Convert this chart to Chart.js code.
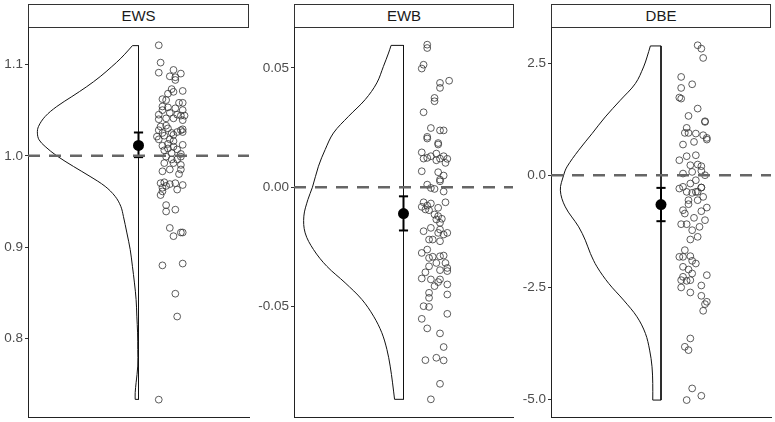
<!DOCTYPE html>
<html lang="en">
<head>
    <meta charset="UTF-8">
    <title>EWS / EWB / DBE</title>
    <script src="https://cdn.jsdelivr.net/npm/chart.js"></script>
    <style>
        body { margin: 0; background: #fff; font-family: "Liberation Sans", Arial, sans-serif; }
        #wrap { position: relative; width: 775px; height: 422px; }
        .strip {
            position: absolute; top: 4px; height: 22px;
            border: 1px solid #333; background: #fff; box-sizing: content-box;
            text-align: center; line-height: 22px; font-size: 15px; color: #1a1a1a;
        }
        .panel { position: absolute; top: 27px; }
    </style>
</head>
<body>
<div id="wrap">
    <div class="strip" style="left:28px; width:219px;">EWS</div>
    <div class="strip" style="left:294px; width:218px;">EWB</div>
    <div class="strip" style="left:551px; width:218px;">DBE</div>
    <div class="panel" style="left:0px;"><canvas id="ews" width="250" height="395"></canvas></div>
    <div class="panel" style="left:252px;"><canvas id="ewb" width="262" height="395"></canvas></div>
    <div class="panel" style="left:515px;"><canvas id="dbe" width="257" height="395"></canvas></div>
</div>

<script>
    // ---- EWS ----
    const ewsX = [1.11,1.12,1.11,1.19,1.23,1.17,1.20,1.20,1.24,1.18,1.19,1.16,1.13,1.15,1.22,1.24,1.13,1.16,1.20,1.13,
        1.24,1.11,1.17,1.21,1.23,1.25,1.11,1.15,1.19,1.24,1.12,1.15,1.11,1.16,1.23,1.24,1.13,1.18,1.21,1.10,
        1.14,1.19,1.24,1.11,1.17,1.19,1.24,1.16,1.19,1.13,1.14,1.16,1.21,1.18,1.23,1.15,1.18,1.21,1.23,1.14,
        1.19,1.23,1.17,1.23,1.13,1.22,1.12,1.14,1.17,1.20,1.24,1.13,1.13,1.15,1.21,1.12,1.15,1.15,1.20,1.17,
        1.19,1.23,1.24,1.13,1.24,1.20,1.21,1.11];
    const ewsY = [1.121,1.102,1.091,1.094,1.090,1.087,1.086,1.083,1.071,1.073,1.070,1.068,1.062,1.061,1.058,1.058,1.054,1.053,1.052,1.050,
        1.050,1.045,1.047,1.045,1.044,1.044,1.040,1.041,1.041,1.039,1.032,1.033,1.028,1.030,1.028,1.029,1.025,1.025,1.026,1.021,
        1.022,1.023,1.026,1.018,1.018,1.016,1.012,1.013,1.010,1.011,1.006,1.008,1.007,1.003,1.002,0.999,0.996,0.996,0.999,0.992,
        0.992,0.990,0.985,0.985,0.983,0.980,0.970,0.971,0.969,0.970,0.968,0.965,0.961,0.967,0.963,0.957,0.946,0.939,0.941,0.921,
        0.912,0.916,0.916,0.880,0.882,0.849,0.824,0.733];
    const ewsViolinY = [1.1206,1.1158,1.1067,1.0976,1.0867,1.0757,1.0648,1.0539,1.0430,1.0321,1.0248,1.0175,1.0102,1.0000,
        0.9883,0.9774,0.9665,0.9556,0.9446,0.9337,0.9155,0.8973,0.8790,0.8608,0.8426,0.8244,0.8061,0.7880,0.7698,0.7515,0.7406,0.7333];
    const ewsViolinW = [0.033,0.054,0.096,0.145,0.208,0.281,0.362,0.444,0.507,0.543,0.549,0.540,0.507,0.444,
        0.353,0.263,0.181,0.127,0.096,0.082,0.063,0.045,0.033,0.022,0.013,0.009,0.005,0.004,0.004,0.013,0.018,0.018];
    const ewsStats = [1.0113, 0.9985, 1.0255];   // mean, lower, upper
    const ewsRef = 1.0;
    const ewsTicks = [0.8, 0.9, 1.0, 1.1];
    const ewsRange = [0.714, 1.141];

    // ---- EWB ----
    const ewbX = [1.13,1.13,1.11,1.10,1.25,1.20,1.20,1.17,1.17,1.11,1.15,1.20,1.22,1.13,1.13,1.19,1.19,1.10,1.13,1.15,
        1.18,1.22,1.24,1.11,1.18,1.20,1.23,1.19,1.10,1.22,1.20,1.20,1.13,1.15,1.17,1.22,1.11,1.13,1.15,1.19,
        1.23,1.10,1.14,1.17,1.19,1.21,1.12,1.18,1.20,1.15,1.20,1.24,1.11,1.16,1.19,1.22,1.14,1.20,1.10,1.13,
        1.14,1.16,1.20,1.22,1.23,1.24,1.24,1.18,1.14,1.12,1.20,1.10,1.15,1.20,1.24,1.19,1.17,1.14,1.24,1.11,
        1.14,1.14,1.24,1.10,1.13,1.20,1.22,1.18,1.12,1.22,1.20,1.15];
    const ewbY = [0.0597,0.0583,0.0513,0.0497,0.0446,0.0437,0.0416,0.0374,0.0360,0.0314,0.0248,0.0238,0.0238,0.0211,0.0204,0.0185,0.0179,0.0146,0.0123,0.0130,
        0.0141,0.0130,0.0119,0.0120,0.0113,0.0120,0.0102,0.0063,0.0067,0.0049,0.0032,0.0025,0.0011,-0.0003,-0.0007,-0.0018,-0.0063,-0.0077,-0.0068,-0.0086,
        -0.0063,-0.0082,-0.0096,-0.0114,-0.0121,-0.0132,-0.0093,-0.0135,-0.0149,-0.0170,-0.0177,-0.0191,-0.0184,-0.0219,-0.0191,-0.0198,-0.0219,-0.0226,-0.0275,-0.0261,
        -0.0296,-0.0291,-0.0289,-0.0286,-0.0317,-0.0338,-0.0351,-0.0317,-0.0331,-0.0356,-0.0347,-0.0382,-0.0386,-0.0386,-0.0407,-0.0397,-0.0414,-0.0442,-0.0449,-0.0498,
        -0.0463,-0.0501,-0.0530,-0.0551,-0.0591,-0.0612,-0.0669,-0.0714,-0.0724,-0.0725,-0.0823,-0.0888];
    const ewbViolinY = [0.0594,0.0562,0.0506,0.0437,0.0367,0.0297,0.0227,0.0158,0.0088,0.0,-0.0052,-0.0121,
        -0.0191,-0.0261,-0.0331,-0.0400,-0.0470,-0.0540,-0.0609,-0.0679,-0.0749,-0.0819,-0.0888];
    const ewbViolinW = [0.068,0.082,0.110,0.146,0.210,0.301,0.384,0.429,0.466,0.499,0.524,0.546,
        0.539,0.493,0.420,0.320,0.228,0.164,0.119,0.091,0.073,0.060,0.049];
    const ewbStats = [-0.0110, -0.0181, -0.0038];
    const ewbRef = 0.0;
    const ewbTicks = [-0.05, 0.0, 0.05];
    const ewbRange = [-0.0962, 0.0671];

    // ---- DBE ----
    const dbeX = [1.20,1.22,1.23,1.11,1.17,1.11,1.10,1.11,1.20,1.15,1.14,1.24,1.24,1.13,1.15,1.19,1.23,1.25,1.25,1.12,
        1.18,1.19,1.10,1.14,1.16,1.20,1.22,1.12,1.17,1.22,1.24,1.16,1.19,1.22,1.12,1.10,1.14,1.20,1.17,1.19,
        1.23,1.15,1.20,1.12,1.15,1.22,1.13,1.25,1.18,1.24,1.11,1.14,1.17,1.21,1.20,1.13,1.12,1.16,1.10,1.17,
        1.19,1.12,1.15,1.12,1.17,1.16,1.11,1.14,1.25,1.22,1.11,1.16,1.22,1.25,1.24,1.23,1.16,1.13,1.15,1.17,
        1.22,1.14,1.22,1.16];
    const dbeY = [2.902,2.827,2.619,2.195,2.031,1.949,1.734,1.711,1.488,1.324,1.057,1.205,1.190,0.945,0.945,0.930,0.893,0.833,0.796,0.685,
        0.744,0.446,0.335,0.424,0.223,0.238,0.201,0.037,0.074,0.097,0.000,-0.186,-0.112,-0.275,-0.260,-0.298,-0.372,-0.372,-0.394,-0.372,
        -0.484,-0.558,-0.558,-0.781,-0.647,-0.804,-0.856,-0.722,-0.952,-1.004,-1.094,-1.094,-1.228,-1.153,-1.376,-1.674,-1.823,-1.808,-1.823,-1.912,
        -1.972,-2.046,-2.106,-2.269,-2.195,-2.344,-2.344,-2.359,-2.232,-2.463,-2.507,-2.619,-2.693,-2.827,-2.879,-3.028,-3.646,-3.832,-3.906,-4.762,
        -4.926,-5.022,-0.275,-1.436];
    const dbeViolinY = [2.887,2.641,2.418,2.046,1.674,1.302,0.930,0.558,0.186,0.0,-0.335,-0.707,
        -1.153,-1.451,-1.749,-2.046,-2.418,-2.790,-3.162,-3.534,-3.906,-4.278,-4.650,-5.022];
    const dbeViolinW = [0.058,0.076,0.095,0.140,0.222,0.304,0.376,0.449,0.513,0.531,0.549,0.522,
        0.449,0.413,0.385,0.349,0.285,0.204,0.131,0.085,0.062,0.049,0.045,0.045];
    const dbeStats = [-0.655, -1.027, -0.283];
    const dbeRef = 0.0;
    const dbeTicks = [-5.0, -2.5, 0.0, 2.5];
    const dbeRange = [-5.40, 3.31];

    const FONT = "'Liberation Sans', Arial, sans-serif";

    function line(data, opts) {
        return Object.assign({ data: data, showLine: true, pointRadius: 0, borderColor: '#111',
            borderWidth: 1, fill: false, tension: 0 }, opts);
    }

    function makePanel(id, xs, ys, vY, vW, stats, ref, ticks, range, axisW, digits) {
        const n = vY.length;
        // curve of the half violin, closed by the vertical line at x = 1
        const curve = vY.map((y, i) => ({ x: 1 - vW[i], y: y }));
        const frame = [
            { x: 1 - vW[0], y: vY[0] }, { x: 1, y: vY[0] },
            { x: 1, y: vY[n - 1] }, { x: 1 - vW[n - 1], y: vY[n - 1] }
        ];
        const pts = xs.map((x, i) => ({ x: x, y: ys[i] }));
        const cap = 0.025;

        new Chart(document.getElementById(id), {
            type: 'scatter',
            data: {
                datasets: [
                    line([{ x: 0.4, y: ref }, { x: 1.6, y: ref }],
                        { borderColor: '#666', borderWidth: 2.5, borderDash: [12, 9] }),
                    { data: [{ x: 1, y: stats[0] }], pointRadius: 5.5, backgroundColor: '#000',
                        borderColor: '#000', borderWidth: 0 },
                    line([{ x: 1, y: stats[1] }, { x: 1, y: stats[2] }], { borderColor: '#000', borderWidth: 2 }),
                    line([{ x: 1 - cap, y: stats[1] }, { x: 1 + cap, y: stats[1] }], { borderColor: '#000', borderWidth: 2 }),
                    line([{ x: 1 - cap, y: stats[2] }, { x: 1 + cap, y: stats[2] }], { borderColor: '#000', borderWidth: 2 }),
                    { data: pts, pointRadius: 3.4, pointStyle: 'circle', backgroundColor: 'rgba(0,0,0,0)',
                        borderColor: '#333', borderWidth: 0.8 },
                    line(curve, { tension: 0.35 }),
                    line(frame)
                ]
            },
            options: {
                responsive: false,
                animation: false,
                events: [],
                layout: { autoPadding: false, padding: { top: 0, right: 1, bottom: 0, left: 0 } },
                plugins: { legend: { display: false }, tooltip: { enabled: false } },
                scales: {
                    x: {
                        type: 'linear', min: 0.4, max: 1.6,
                        ticks: { display: false },
                        grid: { display: false },
                        border: { display: true, color: '#222', width: 1 },
                        afterFit: s => { s.height = 5; s.paddingLeft = 0; s.paddingRight = 0; }
                    },
                    y: {
                        type: 'linear', min: range[0], max: range[1],
                        afterBuildTicks: s => { s.ticks = ticks.map(v => ({ value: v })); },
                        ticks: {
                            color: '#4d4d4d', padding: 2,
                            font: { family: FONT, size: 13.5 },
                            callback: v => v.toFixed(digits)
                        },
                        grid: { display: true, drawOnChartArea: false, drawTicks: true, tickLength: 3, color: '#333' },
                        border: { display: true, color: '#222', width: 1 },
                        afterFit: s => { s.width = axisW; s.paddingTop = 0; s.paddingBottom = 0; }
                    }
                }
            }
        });
    }

    makePanel('ews', ewsX, ewsY, ewsViolinY, ewsViolinW, ewsStats, ewsRef, ewsTicks, ewsRange, 28, 1);
    makePanel('ewb', ewbX, ewbY, ewbViolinY, ewbViolinW, ewbStats, ewbRef, ewbTicks, ewbRange, 42, 2);
    makePanel('dbe', dbeX, dbeY, dbeViolinY, dbeViolinW, dbeStats, dbeRef, dbeTicks, dbeRange, 36, 1);
</script>
</body>
</html>
